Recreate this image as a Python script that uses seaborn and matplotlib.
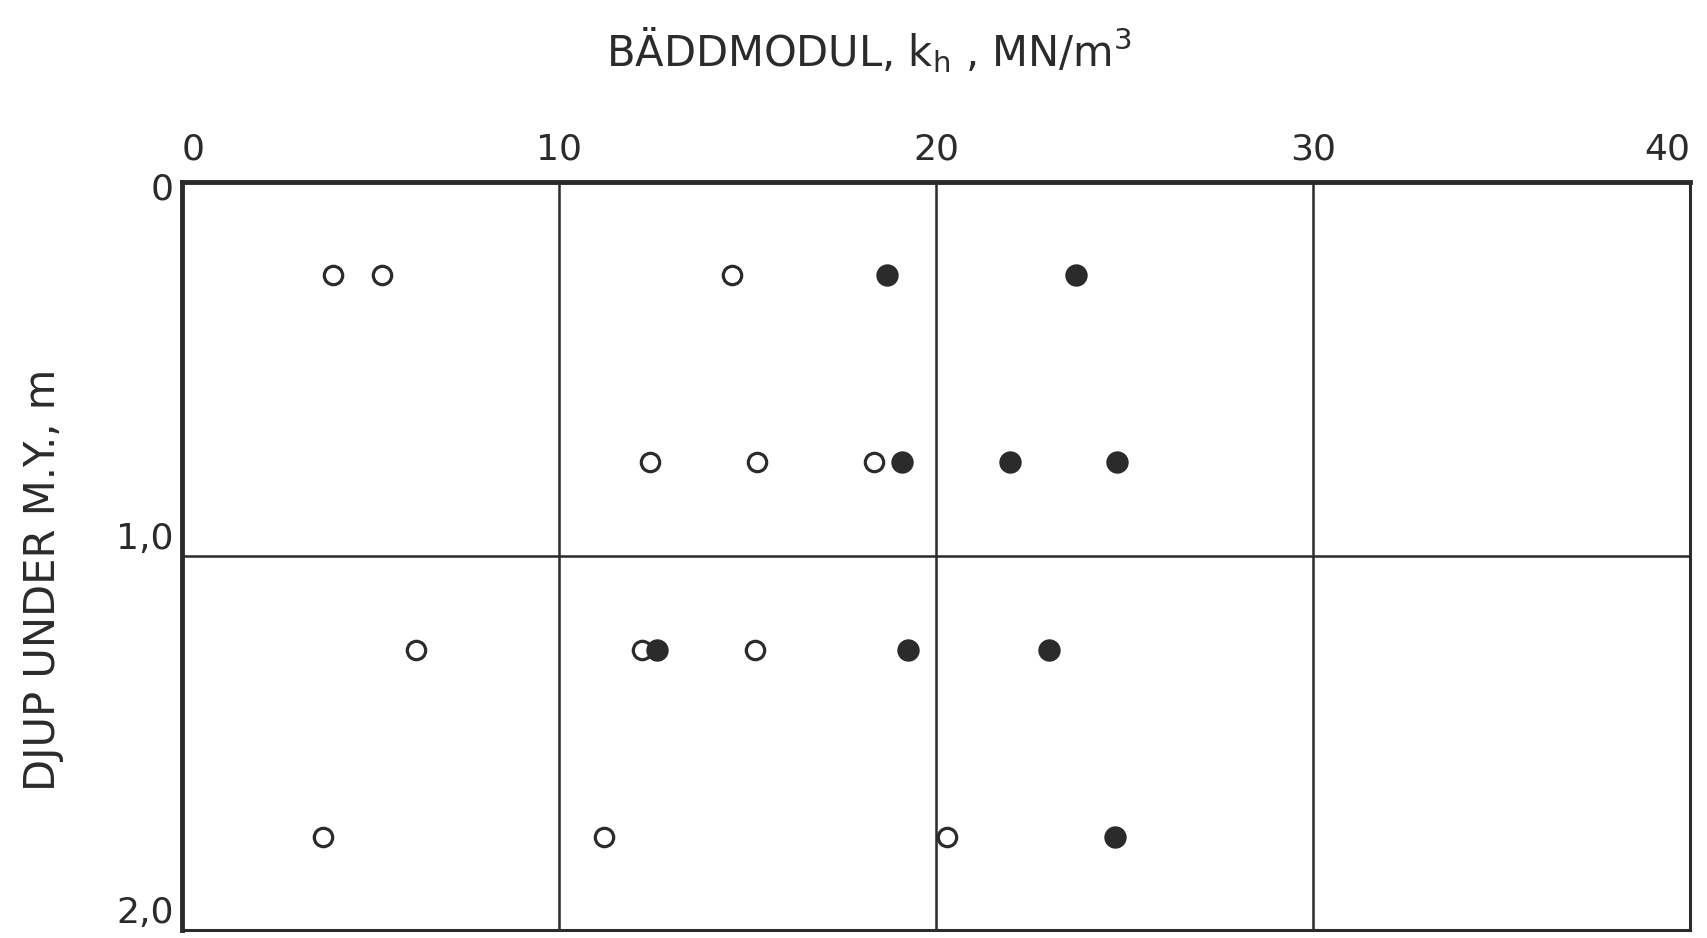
import matplotlib
matplotlib.use("Agg")
import matplotlib.pyplot as plt
import matplotlib.transforms as mtransforms
import seaborn as sns
import pandas as pd

# Data
open_k = [4.0, 5.3, 14.6, 12.4, 15.25, 18.35, 6.2, 12.2, 15.2, 3.75, 11.2, 20.3]
open_depth = [0.25, 0.25, 0.25, 0.75, 0.75, 0.75, 1.25, 1.25, 1.25, 1.75, 1.75, 1.75]
filled_k = [18.7, 23.7, 19.1, 21.95, 24.8, 12.6, 19.25, 23.0, 24.75]
filled_depth = [0.25, 0.25, 0.75, 0.75, 0.75, 1.25, 1.25, 1.25, 1.75]

x_ticks = [0, 10, 20, 30, 40]
y_ticks = [0, 1.0, 2.0]
y_ticklabels = ["0", "1,0", "2,0"]

title = "BÄDDMODUL, k$_\\mathregular{h}$ , MN/m$^\\mathregular{3}$"
ylabel = "DJUP UNDER M.Y., m"

sns.set_style("white")
plt.rcParams['font.family'] = ['DejaVu Sans']
plt.rcParams['mathtext.default'] = 'regular'

ink = "#2b2b2b"

fig = plt.figure(figsize=(17.08, 9.38), dpi=100)
ax = fig.add_axes([0.1066, 0.0085, 0.8829, 0.7975])

df_open = pd.DataFrame({"k": open_k, "d": open_depth})
df_filled = pd.DataFrame({"k": filled_k, "d": filled_depth})

sns.scatterplot(data=df_open, x="k", y="d", ax=ax, s=175, marker="o",
                facecolor="white", edgecolor=ink, linewidth=2.3, zorder=3)
sns.scatterplot(data=df_filled, x="k", y="d", ax=ax, s=260, marker="o",
                color=ink, edgecolor=ink, linewidth=0, zorder=4)

ax.set_xlim(0, 40)
ax.set_ylim(2.0, 0)
ax.set_xticks(x_ticks)
ax.set_yticks(y_ticks)
ax.set_yticklabels(y_ticklabels)
ax.xaxis.tick_top()
ax.tick_params(axis="both", length=0, labelsize=26, colors=ink)
ax.tick_params(axis="x", pad=11)
ax.tick_params(axis="y", pad=6)
ax.set_xlabel("")
ax.set_ylabel("")

# label alignment like the reference
xlabels = ax.get_xticklabels()
xlabels[0].set_horizontalalignment("left")
xlabels[-1].set_horizontalalignment("right")
ylabels = ax.get_yticklabels()
ylabels[0].set_verticalalignment("center")
ylabels[0].set_transform(ylabels[0].get_transform() +
                         mtransforms.ScaledTranslation(0, -0.08, fig.dpi_scale_trans))
for lab in ylabels[1:]:
    lab.set_verticalalignment("bottom")

for v in [10, 20, 30]:
    ax.axvline(v, color=ink, lw=1.8, zorder=1)
ax.axhline(1.0, color=ink, lw=1.8, zorder=1)

for side, lw in [("top", 3.5), ("left", 3.5), ("right", 2.2), ("bottom", 2.2)]:
    ax.spines[side].set_visible(True)
    ax.spines[side].set_color(ink)
    ax.spines[side].set_linewidth(lw)

fig.text(0.509, 0.947, title, ha="center", va="center", fontsize=30, color=ink)
fig.text(0.025, 0.382, ylabel, ha="center", va="center", rotation=90,
         fontsize=30, color=ink)

fig.savefig("out.png", dpi=100, facecolor="white")
